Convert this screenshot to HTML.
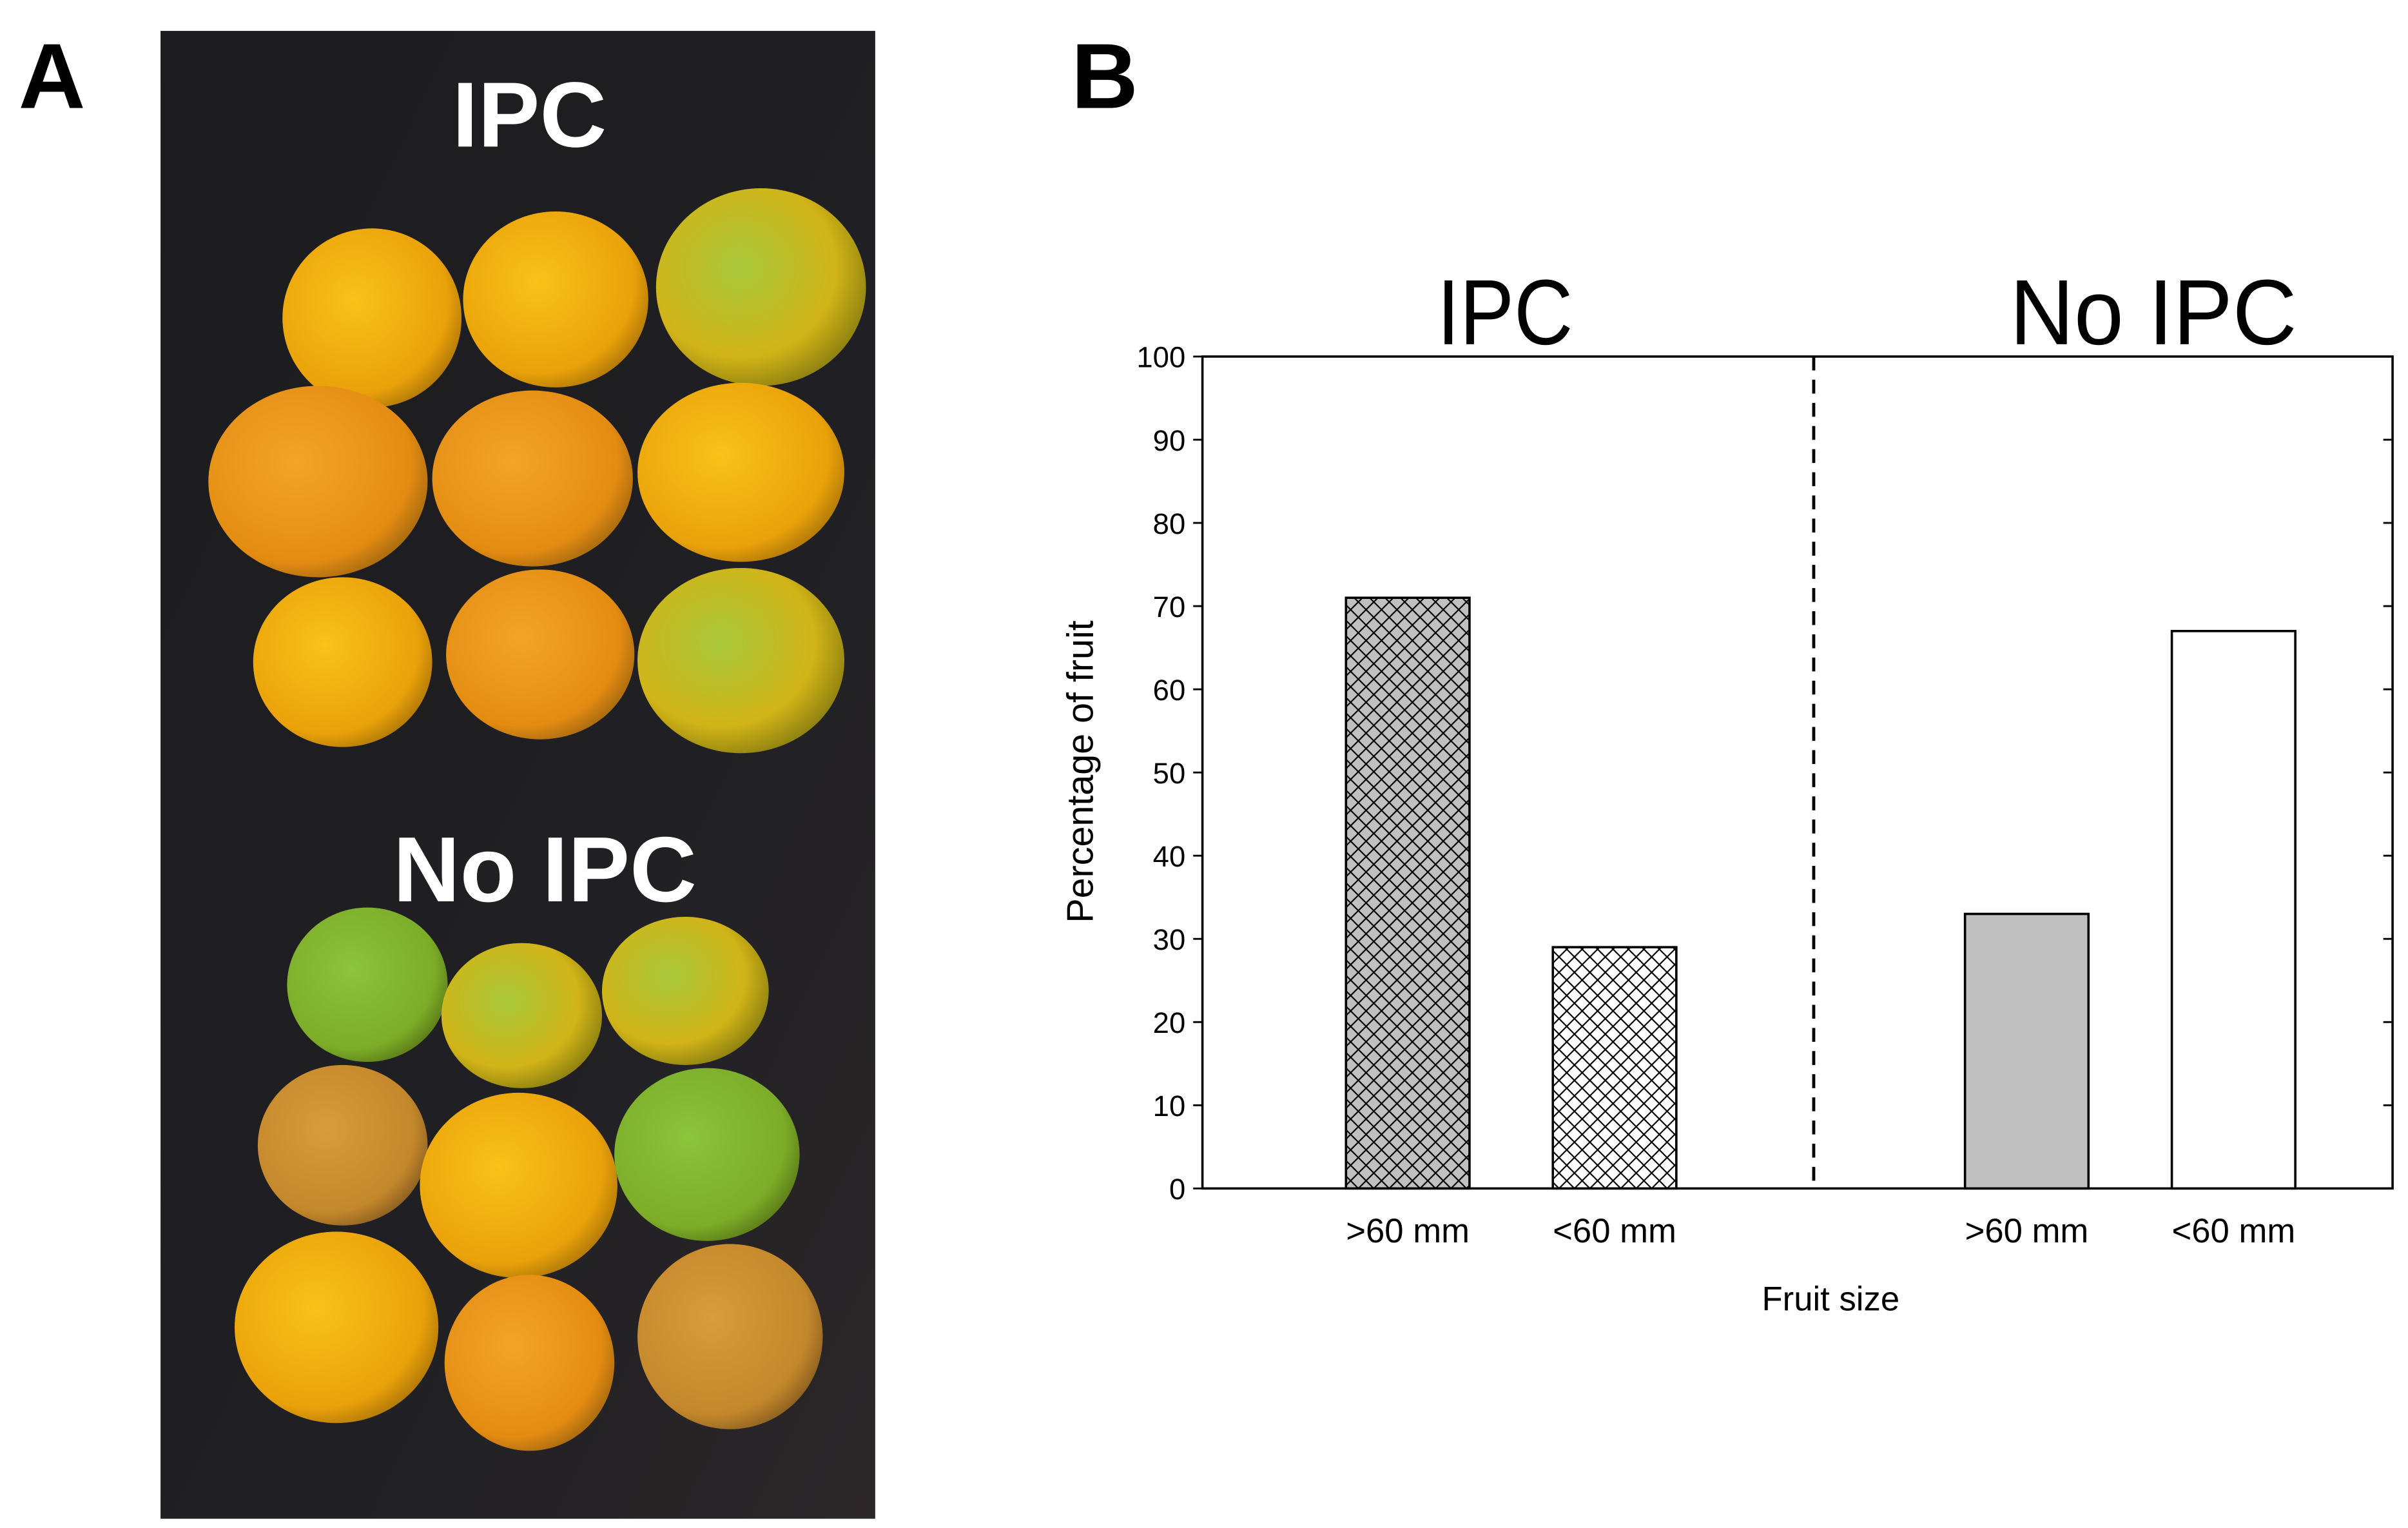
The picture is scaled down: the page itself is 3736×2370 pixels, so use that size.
<!DOCTYPE html>
<html><head><meta charset="utf-8"><style>
html,body{margin:0;padding:0;background:#fff;}
svg{display:block;}
text{font-family:"Liberation Sans",sans-serif;}
</style></head><body>
<svg id="fig" width="3736" height="2370" viewBox="0 0 1560 990" preserveAspectRatio="none" xmlns="http://www.w3.org/2000/svg">
<defs>
<linearGradient id="bg" x1="0" y1="0" x2="1" y2="1">
<stop offset="0" stop-color="#1c1c1e"/><stop offset="0.6" stop-color="#202024"/><stop offset="1" stop-color="#2c2628"/>
</linearGradient>
<radialGradient id="fy" cx="0.4" cy="0.4" r="0.65"><stop offset="0" stop-color="#f8c21a"/><stop offset="0.8" stop-color="#eaa20a"/><stop offset="1" stop-color="#b07808"/></radialGradient>
<radialGradient id="fo" cx="0.4" cy="0.4" r="0.65"><stop offset="0" stop-color="#f3a52a"/><stop offset="0.8" stop-color="#e48c12"/><stop offset="1" stop-color="#a86a10"/></radialGradient>
<radialGradient id="fg" cx="0.4" cy="0.4" r="0.65"><stop offset="0" stop-color="#a8c83a"/><stop offset="0.7" stop-color="#d2b418"/><stop offset="1" stop-color="#8c8010"/></radialGradient>
<radialGradient id="fgg" cx="0.4" cy="0.4" r="0.65"><stop offset="0" stop-color="#8cc43c"/><stop offset="0.8" stop-color="#7cac28"/><stop offset="1" stop-color="#5c7c18"/></radialGradient>
<radialGradient id="fb" cx="0.4" cy="0.4" r="0.65"><stop offset="0" stop-color="#d89c3c"/><stop offset="0.8" stop-color="#c4882c"/><stop offset="1" stop-color="#8c6020"/></radialGradient>
<pattern id="hatch" width="10" height="10" patternUnits="userSpaceOnUse">
<path d="M0,0 L10,10 M10,0 L0,10" stroke="#000" stroke-width="0.9" fill="none"/>
</pattern>
</defs>

<text x="12" y="70" font-size="60" font-weight="bold">A</text>
<g>
<rect x="104" y="20" width="463" height="964" fill="url(#bg)"/>
<text x="343" y="95" font-size="60" font-weight="bold" fill="#fff" text-anchor="middle">IPC</text>
<text x="353" y="584" font-size="60" font-weight="bold" fill="#fff" text-anchor="middle">No IPC</text>
<g id="fruits"></g>
</g>

<text x="694" y="70" font-size="60" font-weight="bold">B</text>
<g id="chart"></g>
</svg>
<script>
var categories = [">60 mm", "<60 mm", ">60 mm", "<60 mm"];
var groups = ["IPC", "IPC", "No IPC", "No IPC"];
var values = [71, 29, 33, 67];
var yTicks = [0, 10, 20, 30, 40, 50, 60, 70, 80, 90, 100];
var groupTitles = ["IPC", "No IPC"];

var NS = "http://www.w3.org/2000/svg";
function mk(tag, attrs, parent) {
  var e = document.createElementNS(NS, tag);
  for (var k in attrs) e.setAttribute(k, attrs[k]);
  parent.appendChild(e);
  return e;
}
var L = 779, R = 1550, T = 231, B = 770;
function yScale(v) { return B - (v / 100) * (B - T); }
function xScale(i) { return i < 2 ? 912 + 134 * i : 1313 + 134 * (i - 2); }
var g = document.getElementById("chart");

var frame = mk("rect", {x: L, y: T, width: R - L, height: B - T, fill: "none", stroke: "#000", "stroke-width": 1.5}, g);



var dash = mk("line", {x1: 1175, y1: T, x2: 1175, y2: B, stroke: "#000", "stroke-width": 2, "stroke-dasharray": "9,6"}, g);



yTicks.forEach(function (t) {
  var y = yScale(t);
  var tl = mk("line", {x1: L - 6, y1: y, x2: L, y2: y, stroke: "#000", "stroke-width": 1.2}, g);
  
  
  var tr = mk("line", {x1: R - 6, y1: y, x2: R, y2: y, stroke: "#000", "stroke-width": 1.2}, g);
  
  
  var lab = mk("text", {x: L - 11, y: y + 7, "font-size": 19, "text-anchor": "end"}, g);
  lab.textContent = t;
  
  
});

var fills = ["#c0c0c0", "#ffffff", "#c0c0c0", "#ffffff"];
var hatched = [true, true, false, false];
var bw = 80;
values.forEach(function (v, i) {
  var x = xScale(i) - bw / 2, y = yScale(v);
  var r = mk("rect", {x: x, y: y, width: bw, height: B - y, fill: fills[i], stroke: "none"}, g);
  
  
  if (hatched[i]) {
    var h = mk("rect", {x: x, y: y, width: bw, height: B - y, fill: "url(#hatch)"}, g);
    
    
  }
  var o = mk("rect", {x: x, y: y, width: bw, height: B - y, fill: "none", stroke: "#000", "stroke-width": 1.5}, g);
  
  
  var c = mk("text", {x: xScale(i), y: 805, "font-size": 22, "text-anchor": "middle"}, g);
  c.textContent = categories[i];
  
  
});

groupTitles.forEach(function (t, j) {
  var gt = mk("text", {x: j === 0 ? 975 : 1395, y: 223, "font-size": 60, "text-anchor": "middle", textLength: j === 0 ? 88 : 186, lengthAdjust: "spacingAndGlyphs"}, g);
  gt.textContent = t;
  
  
});

var xt = mk("text", {x: 1186, y: 849, "font-size": 22, "text-anchor": "middle"}, g);
xt.textContent = "Fruit size";



var yt = mk("text", {x: 0, y: 0, "font-size": 24, "text-anchor": "middle", transform: "translate(708,500) rotate(-90)"}, g);
yt.textContent = "Percentage of fruit";



var fruitList = [
 [241,206,58,58,"fy"],[360,194,60,57,"fy"],[493,186,68,64,"fg"],
 [206,312,71,62,"fo"],[345,310,65,57,"fo"],[480,306,67,58,"fy"],
 [222,429,58,55,"fy"],[350,424,61,55,"fo"],[480,428,67,60,"fg"],
 [238,638,52,50,"fgg"],[338,658,52,47,"fg"],[444,642,54,48,"fg"],
 [222,742,55,52,"fb"],[336,768,64,60,"fy"],[458,748,60,56,"fgg"],
 [218,860,66,62,"fy"],[343,883,55,57,"fo"],[473,866,60,60,"fb"]
];
var fg = document.getElementById("fruits");
fruitList.forEach(function (f) {
  var e = mk("ellipse", {cx: f[0], cy: f[1], rx: f[2], ry: f[3], fill: "url(#" + f[4] + ")"}, fg);
  
  
});
</script>
</body></html>
